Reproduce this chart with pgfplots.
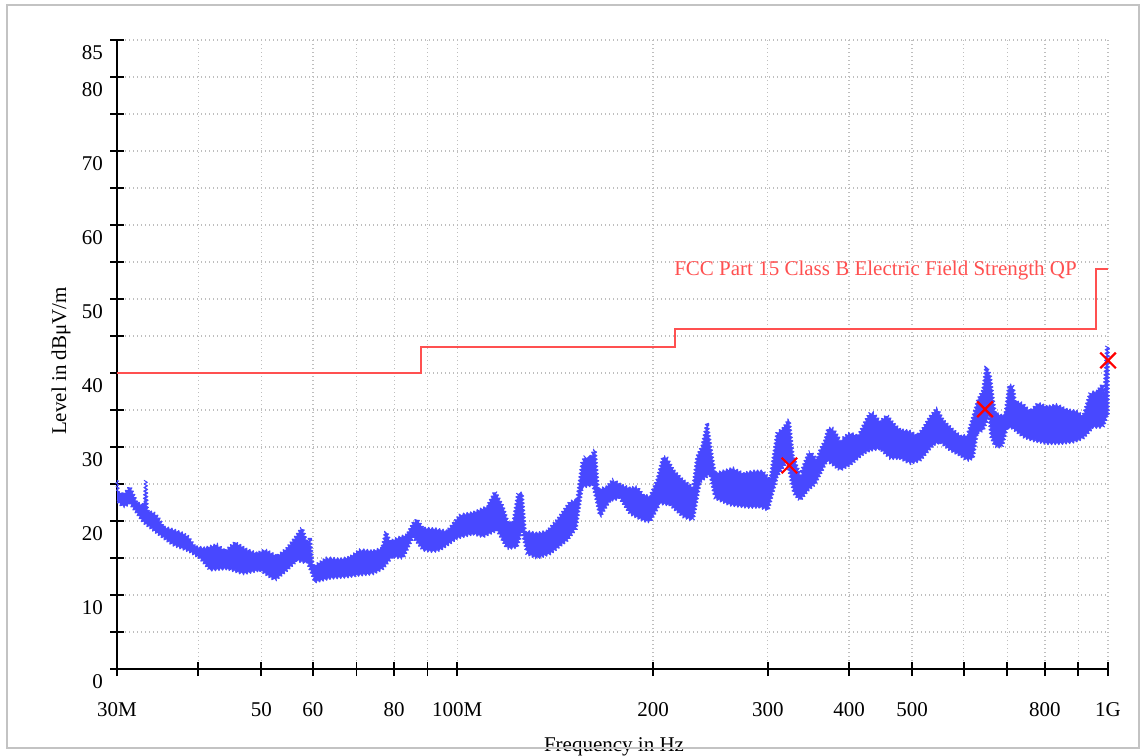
\documentclass[border=0pt]{standalone}
\usepackage{fontspec}
\setmainfont{Liberation Serif}
\usepackage{pgfplots}
\pgfplotsset{compat=1.18}
\usetikzlibrary{decorations.pathmorphing}
\definecolor{trace}{RGB}{72,72,255}
\definecolor{limitc}{RGB}{255,80,80}
\definecolor{gridc}{RGB}{190,190,190}
\definecolor{framec}{RGB}{195,195,195}
\begin{document}
\fontsize{21bp}{25bp}\selectfont
\begin{tikzpicture}
\useasboundingbox (0bp,0bp) rectangle (1140bp,756bp);
\begin{axis}[
  at={(117bp,87bp)}, anchor=south west,
  scale only axis, width=991bp, height=629bp,
  xmode=log, xmin=30, xmax=1000, ymin=0, ymax=85,
  axis x line=bottom, axis y line=left,
  axis line style={-, black, line width=2bp},
  clip=false,
  xtick={30,40,50,60,70,80,90,100,200,300,400,500,600,700,800,900,1000},
  xticklabels={30M,{},50,60,{},80,{},100M,200,300,400,500,{},{},800,{},1G},
  ytick={0,5,...,85},
  yticklabels={0,{},10,{},20,{},30,{},40,{},50,{},60,{},70,{},80,85},
  minor tick num=0,
  tick align=center,
  major tick length=14bp,
  tick style={black, line width=1.8bp},
  xticklabel style={anchor=base, yshift=-40.7bp},
  yticklabel style={anchor=base east, yshift=-20bp},
  grid=major,
  major grid style={gridc, line width=1.3bp, dash pattern=on 1.4bp off 2.6bp},
  xlabel={Frequency in Hz},
  ylabel={Level in dBμV/m},
  every axis x label/.style={at={(axis description cs:0.5015,-0.1304)}, anchor=base},
  every axis y label/.style={at={(axis description cs:-0.0565,0.4897)}, rotate=90, anchor=center},
]
% measured trace: upper envelope (left to right), then lower envelope (right to left)
\addplot[fill=trace, draw=trace, line width=0.9bp, line join=round,
  decorate, decoration={zigzag, segment length=3.6bp, amplitude=1.5bp}] coordinates {
(30.00,25.5)(30.11,24.0)(30.64,23.5)(31.41,24.6)(31.75,23.7)(32.20,22.4)(32.78,22.2)(33.07,22.5)(33.21,25.6)(33.36,21.8)(33.48,21.3)(34.32,21.0)(34.93,20.1)(35.30,19.2)(36.58,18.8)(37.89,18.3)(38.57,17.9)(39.54,16.5)(40.96,16.3)(42.74,16.8)(43.96,15.9)(45.55,17.1)(47.52,16.1)(49.23,15.6)(50.65,16.1)(52.85,15.2)(54.75,16.3)(56.72,18.1)(57.73,19.1)(58.76,17.0)(59.39,17.7)(60.03,13.8)(63.07,15.0)(66.04,14.8)(68.42,15.1)(70.89,16.1)(74.22,15.9)(76.63,16.3)(77.72,18.6)(78.83,17.2)(81.09,17.7)(83.71,18.1)(85.51,19.7)(86.73,20.2)(88.59,19.0)(92.43,18.9)(96.44,18.6)(100.98,20.8)(105.74,21.1)(111.11,21.9)(114.30,24.0)(117.58,21.9)(119.68,19.7)(121.82,19.7)(123.99,23.8)(125.76,23.7)(127.10,18.6)(132.61,18.3)(137.39,18.6)(142.34,20.1)(149.04,22.6)(152.78,22.8)(155.50,27.8)(157.16,28.7)(159.97,28.5)(162.82,29.7)(164.56,24.2)(169.89,24.6)(173.53,25.6)(177.88,24.9)(184.29,24.4)(188.91,24.6)(192.97,23.5)(197.81,23.3)(202.77,25.5)(207.12,28.7)(210.07,28.5)(214.58,26.9)(222.31,25.5)(230.32,24.5)(233.61,28.7)(237.78,30.1)(242.02,33.2)(246.34,28.7)(248.97,26.4)(256.12,26.7)(265.35,27.1)(274.90,26.4)(284.81,26.7)(295.06,26.7)(302.47,25.5)(310.05,31.9)(316.70,32.5)(323.50,33.7)(328.11,28.7)(336.34,26.2)(346.00,29.1)(348.45,29.4)(357.19,28.2)(361.01,29.6)(367.45,30.9)(371.37,32.5)(378.00,32.5)(387.48,30.9)(401.44,31.9)(412.96,31.4)(423.32,33.4)(430.88,34.6)(435.48,34.6)(446.40,33.4)(457.59,34.3)(467.42,33.2)(479.14,32.3)(496.40,32.1)(508.85,31.5)(519.77,32.5)(532.80,34.1)(546.16,35.2)(557.89,33.6)(577.99,32.3)(592.49,31.5)(607.34,31.5)(620.37,34.1)(631.45,36.4)(642.73,37.7)(649.59,40.9)(658.85,39.7)(665.87,36.4)(670.60,34.6)(682.57,34.3)(694.76,34.3)(704.66,38.4)(714.71,38.2)(719.78,36.1)(737.84,35.9)(758.99,34.8)(780.79,35.9)(806.06,35.4)(835.09,35.7)(865.17,35.0)(896.34,34.8)(915.57,34.1)(938.53,37.3)(962.07,37.5)(979.24,38.4)(986.20,36.5)(995.66,43.6)(1000,43.6)
(1000,34.3)(996.72,34.3)(982.71,32.7)(948.55,32.7)(915.57,31.2)(883.74,30.7)(844.01,30.5)(806.06,30.5)(767.09,30.9)(740.45,31.4)(714.71,32.5)(699.69,32.7)(687.42,30.0)(670.60,30.1)(661.18,31.4)(656.52,34.3)(642.73,32.3)(629.22,31.9)(620.37,28.5)(607.34,28.2)(592.49,28.9)(571.88,29.6)(552.00,30.7)(538.49,30.3)(514.28,28.2)(496.40,27.8)(479.14,28.5)(462.48,28.5)(446.40,29.8)(430.88,29.6)(420.34,29.1)(401.44,27.6)(387.48,26.9)(370.06,28.2)(354.67,25.0)(346.00,24.2)(336.34,22.8)(329.27,23.7)(321.22,28.2)(310.05,26.0)(300.33,21.5)(291.95,21.9)(278.82,21.9)(262.54,22.2)(248.97,23.1)(244.60,26.4)(236.10,25.3)(230.32,20.1)(222.31,20.6)(212.32,22.2)(204.93,22.4)(197.81,19.9)(192.97,20.1)(184.29,21.0)(177.88,23.1)(171.70,22.8)(165.73,20.6)(161.67,24.9)(155.50,24.6)(152.24,19.0)(147.46,17.4)(138.85,15.6)(132.61,15.0)(128.00,15.6)(125.76,18.8)(123.55,16.5)(119.26,16.3)(115.11,18.8)(109.55,17.9)(105.74,18.3)(99.92,17.7)(94.08,16.1)(91.78,15.9)(88.59,16.1)(85.51,17.9)(82.54,15.0)(79.39,15.2)(76.90,13.6)(74.22,12.9)(70.14,12.7)(67.94,12.5)(63.75,12.3)(60.45,11.8)(58.97,14.3)(56.72,14.7)(54.75,13.4)(52.47,12.0)(49.76,13.4)(46.86,12.9)(44.28,13.6)(41.69,13.4)(40.24,15.0)(38.84,15.9)(36.58,16.8)(34.93,18.1)(32.89,19.9)(31.41,22.4)(30.64,21.9)(30.00,22.8)
};
\addplot[limitc, line width=2bp, line join=miter] coordinates {
(30,40)(88,40)(88,43.5)(216,43.5)(216,46)(960,46)(960,54)(1000,54)
};
\addplot[only marks, red, mark=x, mark size=11bp, mark options={line width=2.2bp}] coordinates {
(323.8,27.5)(647,35.1)(1000,41.7)
};
\node[limitc, anchor=base east, inner sep=0pt] at (axis cs:896,53.2) {FCC Part 15 Class B Electric Field Strength QP};
\end{axis}
\draw[framec, line width=2bp] (6.5bp,8bp) rectangle (1138.5bp,751bp);
\end{tikzpicture}
\end{document}
